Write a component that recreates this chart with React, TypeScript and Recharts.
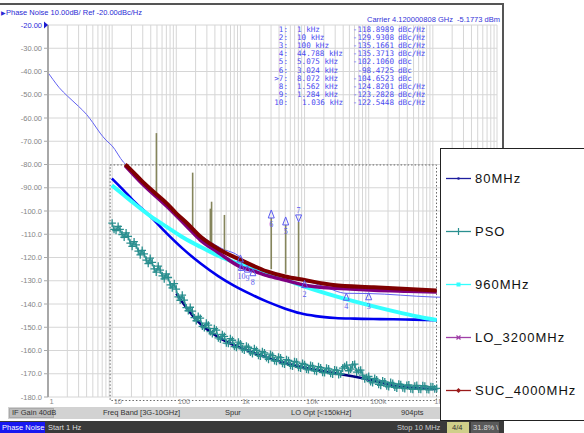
import React from "react"
import { CartesianGrid, ComposedChart, Line, ReferenceArea, ReferenceLine, Scatter, XAxis, YAxis } from "recharts"

// analyzer axes
const decades = [1, 10, 100, 1000, 10000, 100000, 1000000, 10000000]
const decadeLabels = ["1", "10", "100", "1k", "10k", "100k", "1M", "10M"]
const minorSteps = [1, 2, 3, 4, 5, 6, 7, 8, 9]
const xTicks = decades.flatMap((d, i) => (i === decades.length - 1 ? [d] : minorSteps.map((m) => d * m)))
const yTicks = [-20, -30, -40, -50, -60, -70, -80, -90, -100, -110, -120, -130, -140, -150, -160, -170, -180]

// analyzer phase noise trace [Hz, dBc/Hz]
const analyzerTrace = [
  [1, -40.5], [1.2, -43.5], [1.5, -47], [2, -50.5], [3, -55], [4, -58.5], [5, -62], [6.5, -66.5], [8, -69.5],
  [10, -72], [15, -79], [20, -82], [30, -87], [50, -94], [100, -102], [200, -109], [500, -116], [1000, -120],
  [1036, -122.5], [1284, -123.3], [1562, -124.8], [2000, -125.5], [5000, -128], [10000, -129.9], [20000, -132.5],
  [44788, -135.4], [100000, -135.5], [1000000, -137], [10000000, -137.5],
]

// spurs [Hz, peak dB, floor dB]
const spurs = [
  [49, -66.5, -93], [180, -83.5, -108], [340, -99, -113.5], [355, -96, -114], [563, -101.7, -118],
  [3024, -103, -125], [5075, -106, -127], [8072, -104.7, -128.5],
]

// markers
const markers = [
  { f: 1000, db: -118.9, id: "1", kind: "trace" },
  { f: 10000, db: -129.93, id: "2", kind: "trace" },
  { f: 100000, db: -135.17, id: "3", kind: "trace" },
  { f: 44788, db: -135.37, id: "4", kind: "trace" },
  { f: 5075, db: -106, id: "5", kind: "up" },
  { f: 3024, db: -103, id: "6", kind: "up" },
  { f: 8072, db: -104.7, id: "7", kind: "down" },
  { f: 1562, db: -124.82, id: "8", kind: "trace" },
  { f: 1284, db: -123.28, id: "9", kind: "trace" },
  { f: 1036, db: -122.54, id: "10", kind: "trace" },
]

const markerRows = [
  ["1:", "1 kHz", "-118.8989", "dBc/Hz"],
  ["2:", "10 kHz", "-129.9308", "dBc/Hz"],
  ["3:", "100 kHz", "-135.1661", "dBc/Hz"],
  ["4:", "44.788 kHz", "-135.3713", "dBc/Hz"],
  ["5:", "5.075 kHz", "-102.1060", "dBc"],
  ["6:", "3.024 kHz", "-98.4725", "dBc"],
  [">7:", "8.072 kHz", "-104.6523", "dBc"],
  ["8:", "1.562 kHz", "-124.8201", "dBc/Hz"],
  ["9:", "1.284 kHz", "-123.2828", "dBc/Hz"],
  ["10:", "1.036 kHz", "-122.5448", "dBc/Hz"],
]

// overlay curves [Hz, dBc/Hz]
const suc4000 = [
  [16, -80], [20, -82.5], [30, -87.5], [50, -93], [71, -96.7], [100, -101], [150, -105.5], [237, -111],
  [500, -117], [1000, -121], [2600, -126], [5000, -128.2], [10000, -129.7], [28000, -131.8], [120000, -132.8],
  [400000, -133.6], [1150000, -134.2],
]
const lo3200 = [
  [16, -80.5], [30, -88.5], [71, -98], [150, -107], [237, -112.5], [433, -117.5], [1000, -124], [1440, -125.4],
  [2600, -127.8], [4700, -129.6], [12000, -132.3], [52000, -133.6], [120000, -134.1], [400000, -134.5],
  [1150000, -134.8],
]
const m960 = [
  [9.9, -89], [15, -93], [21, -96.3], [40, -102.3], [71, -106.8], [130, -111.5], [237, -115.4],
  [450, -119.2], [1000, -123], [3200, -127.5], [10000, -132.5], [32000, -136.8], [120000, -141],
  [316000, -143.8], [600000, -145.5], [1150000, -146.9],
]
const m80 = [
  [9.9, -86], [15, -91], [21, -95.3], [40, -102.5], [71, -109.6], [130, -116.5], [237, -122.5], [450, -128],
  [780, -132], [1500, -136], [2600, -139], [5000, -142], [8600, -144], [15000, -145.2], [30000, -146],
  [60000, -146.3], [150000, -146.5], [500000, -146.7], [1150000, -147],
]
const pso = [
  [10, -105.2], [11.5, -108.4], [13.3, -107.9], [15.4, -111.3], [17.8, -110.9], [20.5, -115.2], [23.7, -114.6],
  [27.4, -118.9], [31.6, -118.4], [36.5, -122.6], [42.2, -122.1], [48.7, -126.3], [56.2, -125.4], [64.9, -129.2],
  [75, -128.6], [86.6, -133.1], [100, -133.6], [115, -138.4], [133, -138.3], [154, -142.9], [178, -143.1],
  [205, -147.2], [237, -146.1], [274, -150.2], [316, -149.1], [365, -152.8], [422, -151.2], [487, -155.1],
  [562, -153.9], [649, -157], [750, -155.6], [866, -158.7], [1000, -157.1], [1150, -159.9], [1330, -158.6],
  [1540, -161.4], [1780, -159.9], [2050, -162.5], [2370, -161], [2740, -163.8], [3160, -162.2], [3650, -164.7],
  [4220, -163.1], [4870, -165.9], [5620, -164.3], [6490, -166.8], [7500, -165], [8660, -167.6], [10000, -166],
  [11500, -168.3], [13300, -166.7], [15400, -169], [17800, -167.4], [20500, -169.6], [23700, -167.9],
  [27400, -170.2], [31600, -168.5], [36500, -170.1], [42200, -166.9], [48700, -168.7], [56200, -166.2],
  [64900, -169.3], [75000, -168.4], [86600, -172.2], [100000, -171.1], [115000, -173.9], [133000, -172.6],
  [154000, -175], [178000, -173.5], [205000, -175.6], [237000, -174.1], [274000, -176.2], [316000, -174.6],
  [365000, -176.4], [422000, -174.8], [487000, -176.7], [562000, -175], [649000, -176.8], [750000, -175.3],
  [866000, -176.9], [1000000, -175.6], [1150000, -176.3],
]
const psoMid = [
  [10.7, -107.9], [12.4, -106.6], [14.3, -110.1], [16.5, -109.4], [19.1, -113.8], [22, -113.2], [25.5, -117.3],
  [29.4, -116.9], [34, -121.1], [39.2, -120.3], [45.3, -124.9], [52.3, -123.7], [60.4, -127.9], [69.7, -127.1],
  [80.6, -131.8], [93.1, -131.2], [107, -136.9], [124, -136.2], [143, -141.6], [165, -141.4], [191, -145.9],
  [220, -145.3], [255, -149.6], [294, -148.2], [340, -151.9], [392, -150.6], [453, -154.6], [523, -153.1],
  [604, -156.8], [697, -154.9], [806, -158.3], [931, -156.4], [1070, -159.3], [1240, -158.1], [1430, -160.7],
  [1650, -159.2], [1910, -162.1], [2200, -160.5], [2550, -163.1], [2940, -161.6], [3400, -164.4], [3920, -162.8],
  [4530, -165.6], [5230, -163.9], [6040, -166.4], [6970, -164.7], [8060, -167.3], [9310, -165.5], [10700, -168],
  [12400, -166.4], [14300, -168.7], [16500, -166.9], [19100, -169.4], [22000, -167.6], [25500, -169.9],
  [29400, -168.3], [34000, -170.4], [39200, -167.6], [45300, -166.3], [52300, -168], [60400, -165.9],
  [69700, -168.6], [80600, -170.6], [93100, -171.6], [107000, -173.4], [124000, -172], [143000, -174.6],
  [165000, -173], [191000, -175.3], [220000, -173.7], [255000, -175.8], [294000, -174.4], [340000, -176.1],
  [392000, -175], [453000, -176.5], [523000, -175.3], [604000, -176.6], [697000, -175.1], [806000, -176.7],
  [931000, -175.5], [1070000, -176.5],
]
const psoFit = [
  [100, -135.5], [200, -146.5], [500, -155], [1000, -158.8], [3000, -163.6], [10000, -167.4], [30000, -169.8],
  [100000, -172.5], [300000, -175.6], [1150000, -176.6],
]

const legendItems = [
  { name: "80MHz", color: "#1e1e9e", mark: "dot" },
  { name: "PSO", color: "#2a9090", mark: "tick" },
  { name: "960MHz", color: "#33ffff", mark: "square" },
  { name: "LO_3200MHz", color: "#a040a8", mark: "x" },
  { name: "SUC_4000MHz", color: "#9a1a1a", mark: "diamond" },
]

const pts = (rows: number[][]) => rows.map(([f, db]) => ({ f, db }))
const psoAll = [...pso, ...psoMid].sort((a, b) => a[0] - b[0])
const markBlue = "#5a5af0"

function YTick({ x, y, payload }: any) {
  const v = payload.value
  const top = v === -20
  return (
    <g>
      <text x={x} y={y + 2.5} textAnchor="end" fontSize={7.5} fontFamily="Liberation Sans" fill={top ? "#2b2bd8" : "#858585"}>
        {v > -100 ? v.toFixed(2) : v.toFixed(1)}
      </text>
      {top && <path d={`M${x + 2},${y - 3.5} L${x + 6},${y} L${x + 2},${y + 3.5} Z`} fill="#1a1ad0" />}
    </g>
  )
}

function XTick({ x, y, payload }: any) {
  const i = decades.indexOf(payload.value)
  if (i < 0) return <g />
  return (
    <text x={x + 1.5} y={y + 7} fontSize={7.5} fontFamily="Liberation Sans" fill="#8a8a8a">
      {decadeLabels[i]}
    </text>
  )
}

function MarkerGlyph({ cx, cy, payload }: any) {
  if (cx == null || cy == null) return <g />
  const k = payload.kind
  if (k === "up")
    return (
      <g stroke={markBlue} fill="none" strokeWidth={1}>
        <path d={`M${cx},${cy - 8} L${cx - 3},${cy} L${cx + 3},${cy} Z`} />
        <text x={cx} y={cy + 9} textAnchor="middle" fontSize={8} fill={markBlue} stroke="none">{payload.id}</text>
      </g>
    )
  if (k === "down")
    return (
      <g stroke={markBlue} fill="none" strokeWidth={1}>
        <path d={`M${cx},${cy} L${cx - 3},${cy - 7} L${cx + 3},${cy - 7} Z`} />
        <text x={cx} y={cy - 9} textAnchor="middle" fontSize={8} fill={markBlue} stroke="none">{payload.id}</text>
      </g>
    )
  return (
    <g stroke={markBlue} fill="none" strokeWidth={1}>
      <path d={`M${cx},${cy} L${cx - 3},${cy + 7} L${cx + 3},${cy + 7} Z`} />
      <text x={cx} y={cy + 16} textAnchor="middle" fontSize={8} fill={markBlue} stroke="none">{payload.id}</text>
    </g>
  )
}

function AxisFlag({ cx, cy, payload }: any) {
  if (cx == null || cy == null) return <g />
  const active = payload.id === "7"
  return <path d={`M${cx},${cy} L${cx - 3},${cy + 6} L${cx + 3},${cy + 6} Z`} stroke={markBlue} fill={active ? "#2020d0" : "#fff"} strokeWidth={0.9} />
}

function PlusDot(props: any) {
  const { cx, cy, index } = props
  if (cx == null || cy == null) return <g key={`p${index}`} />
  return <path key={`p${index}`} d={`M${cx - 3.8},${cy} H${cx + 3.8} M${cx},${cy - 3.8} V${cy + 3.8}`} stroke="#2a8e8e" strokeWidth={1.3} />
}

function LegendMark({ color, mark }: { color: string; mark: string }) {
  return (
    <svg width={26} height={9} style={{ display: "block" }}>
      <line x1={0} y1={4.5} x2={25} y2={4.5} stroke={color} strokeWidth={1.3} />
      {mark === "dot" && <circle cx={12.5} cy={4.5} r={1.3} fill={color} />}
      {mark === "tick" && <line x1={12.5} y1={1} x2={12.5} y2={8} stroke={color} strokeWidth={1.2} />}
      {mark === "square" && <rect x={10.5} y={2.5} width={4} height={4} fill={color} />}
      {mark === "x" && <path d="M10.5,2.5 L14.5,6.5 M14.5,2.5 L10.5,6.5" stroke={color} strokeWidth={1.2} />}
      {mark === "diamond" && <path d="M12.5,2 L15,4.5 L12.5,7 L10,4.5 Z" fill={color} />}
    </svg>
  )
}

const tiny: React.CSSProperties = { position: "absolute", fontFamily: "Liberation Sans", fontSize: 7.5, whiteSpace: "nowrap", lineHeight: "9px" }

export default function App() {
  return (
    <div style={{ position: "absolute", left: 0, top: 0, width: 584, height: 433, background: "#fff", overflow: "hidden" }}>
      <ComposedChart width={584} height={433} margin={{ top: 25, right: 87, bottom: 24, left: 0 }}>
        <CartesianGrid stroke="#d6d6d6" strokeWidth={1} />
        <XAxis
          dataKey="f"
          type="number"
          scale="log"
          domain={[1, 10000000]}
          allowDataOverflow
          ticks={xTicks}
          interval={0}
          tick={<XTick />}
          tickLine={false}
          axisLine={false}
          tickSize={0}
          tickMargin={0}
          height={12}
        />
        <YAxis
          dataKey="db"
          type="number"
          domain={[-180, -20]}
          allowDataOverflow
          ticks={yTicks}
          interval={0}
          tick={<YTick />}
          tickLine={{ stroke: "#a8a8a8" }}
          tickSize={4}
          tickMargin={2}
          axisLine={{ stroke: "#a8a8a8", strokeWidth: 2 }}
          width={48}
        />
        <ReferenceArea x1={9.3} x2={1140000} y1={-181.5} y2={-80.2} fill="none" stroke="#666" strokeDasharray="1.5 2" ifOverflow="visible" />
        <Line data={pts(analyzerTrace)} dataKey="db" stroke="#6262f2" strokeWidth={1} dot={false} type="monotone" isAnimationActive={false} />
        {spurs.map(([f, hi, lo]) => (
          <ReferenceLine key={`s${f}`} segment={[{ x: f, y: lo }, { x: f, y: hi }]} stroke="#85855c" strokeWidth={1.6} ifOverflow="visible" />
        ))}
        <Scatter data={markers} dataKey="db" shape={(p: any) => <MarkerGlyph {...p} />} isAnimationActive={false} />
        <Scatter data={markers.map((m) => ({ f: m.f, db: -180, id: m.id }))} dataKey="db" shape={(p: any) => <AxisFlag {...p} />} isAnimationActive={false} />
        <Line data={pts(psoFit)} dataKey="db" stroke="#000080" strokeWidth={2.5} dot={false} type="monotone" isAnimationActive={false} />
        <Line data={pts(psoAll)} dataKey="db" stroke="#2f9a9a" strokeWidth={1.4} dot={PlusDot} type="linear" isAnimationActive={false} />
        <Line data={pts(m80)} dataKey="db" stroke="#0000ee" strokeWidth={2.6} dot={false} type="monotone" isAnimationActive={false} />
        <Line data={pts(m960)} dataKey="db" stroke="#33ffff" strokeWidth={4} dot={false} type="monotone" isAnimationActive={false} />
        <Line data={pts(lo3200)} dataKey="db" stroke="#800080" strokeWidth={3.5} dot={false} type="monotone" isAnimationActive={false} />
        <Line data={pts(suc4000)} dataKey="db" stroke="#7f0000" strokeWidth={4} dot={false} type="monotone" isAnimationActive={false} />
      </ComposedChart>

      {/* window frame */}
      <div style={{ position: "absolute", left: 0, top: 3, width: 504, height: 2, background: "#555" }} />
      <div style={{ position: "absolute", left: 502, top: 3, width: 2, height: 150, background: "#555" }} />

      <div style={{ ...tiny, left: 1, top: 8, color: "#2a2ad4" }}>
        <span style={{ fontSize: 6 }}>▶</span>Phase Noise 10.00dB/ Ref -20.00dBc/Hz
      </div>
      <div style={{ ...tiny, left: 367, top: 15, color: "#3434d8" }}>Carrier 4.120000808 GHz</div>
      <div style={{ ...tiny, left: 457, top: 15, color: "#3434d8" }}>-5.1773 dBm</div>

      {markerRows.map((r, i) => (
        <div key={r[0]} style={{ position: "absolute", top: 25.5 + i * 8.2, left: 0, fontFamily: "DejaVu Sans Mono", fontSize: 7.6, lineHeight: "8px", color: "#4a4af0", whiteSpace: "nowrap" }}>
          <span style={{ position: "absolute", left: 260, width: 28, textAlign: "right" }}>{r[0]}</span>
          <span style={{ position: "absolute", left: r[0] === "10:" ? 302 : 297 }}>{r[1]}</span>
          <span style={{ position: "absolute", left: 340, width: 54, textAlign: "right" }}>{r[2]}</span>
          <span style={{ position: "absolute", left: 398 }}>{r[3]}</span>
        </div>
      ))}

      {/* status rows */}
      <div style={{ position: "absolute", left: 8, top: 407, width: 440, height: 12, background: "#d2d2d2" }} />
      <div style={{ position: "absolute", left: 9, top: 408, width: 45, height: 10, background: "#bdbdbd", border: "1px solid #aaa", boxSizing: "border-box" }} />
      <div style={{ ...tiny, left: 12, top: 408, color: "#333" }}>IF Gain 40dB</div>
      <div style={{ ...tiny, left: 103, top: 408, color: "#333" }}>Freq Band [3G-10GHz]</div>
      <div style={{ ...tiny, left: 225, top: 408, color: "#333" }}>Spur</div>
      <div style={{ ...tiny, left: 291, top: 408, color: "#333" }}>LO Opt [&lt;150kHz]</div>
      <div style={{ ...tiny, left: 401, top: 408, color: "#333" }}>904pts</div>

      <div style={{ position: "absolute", left: 0, top: 421, width: 504, height: 12, background: "#3a3a3a" }} />
      <div style={{ position: "absolute", left: 0, top: 422, width: 45, height: 11, background: "#1818f0" }} />
      <div style={{ ...tiny, left: 2, top: 423, color: "#fff" }}>Phase Noise</div>
      <div style={{ ...tiny, left: 48, top: 423, color: "#ddd" }}>Start 1 Hz</div>
      <div style={{ ...tiny, left: 397, top: 423, color: "#ccc" }}>Stop 10 MHz</div>
      <div style={{ position: "absolute", left: 447, top: 422, width: 22, height: 11, background: "#cfcf8a" }} />
      <div style={{ ...tiny, left: 452, top: 423, color: "#333" }}>4/4</div>
      <div style={{ position: "absolute", left: 471, top: 422, width: 28, height: 11, background: "#5a5a5a" }} />
      <div style={{ ...tiny, left: 473, top: 423, color: "#ddd" }}>31.8% \</div>

      {/* legend */}
      <div style={{ position: "absolute", left: 440, top: 148, width: 150, height: 273, background: "#fff", border: "1px solid #222", boxSizing: "border-box" }}>
        {legendItems.map((it, i) => (
          <div key={it.name} style={{ position: "absolute", left: 5, top: 22 + i * 53, display: "flex", alignItems: "center" }}>
            <LegendMark color={it.color} mark={it.mark} />
            <span style={{ marginLeft: 3, fontFamily: "Liberation Sans", fontSize: 13, letterSpacing: 1, color: "#111" }}>{it.name}</span>
          </div>
        ))}
      </div>
    </div>
  )
}
